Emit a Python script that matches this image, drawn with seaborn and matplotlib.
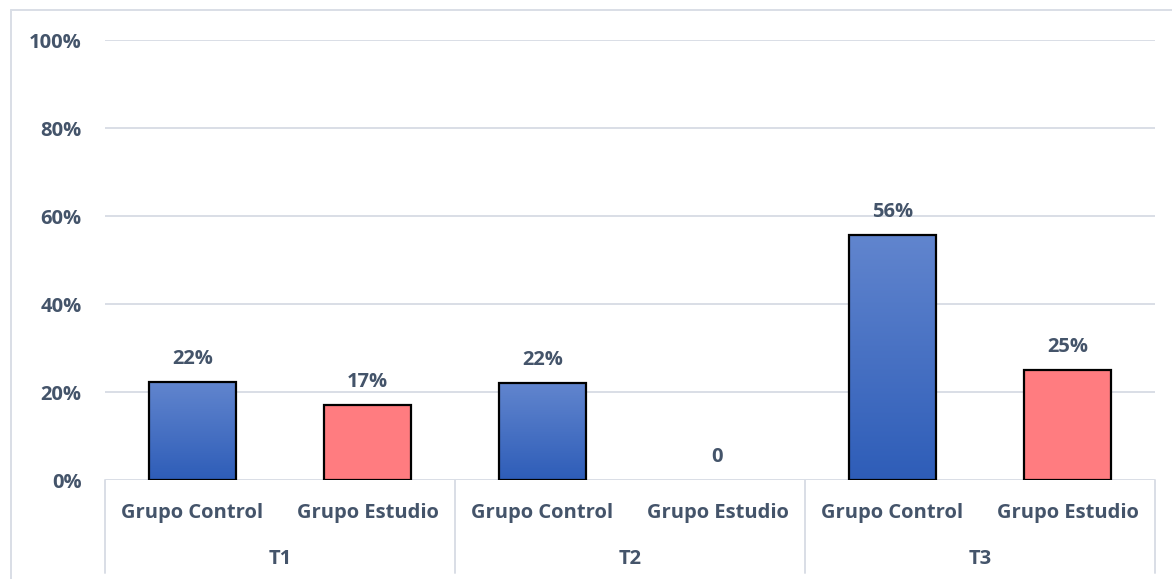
import numpy as np
import pandas as pd
import seaborn as sns
import matplotlib.pyplot as plt
from matplotlib.lines import Line2D
from matplotlib.colors import LinearSegmentedColormap

# data
tiempos = ["T1", "T1", "T2", "T2", "T3", "T3"]
grupos = ["Grupo Control", "Grupo Estudio"] * 3
valores = [0.222, 0.17, 0.22, 0.0, 0.556, 0.25]
etiquetas = ["22%", "17%", "22%", "0", "56%", "25%"]
y_ticks = [0, 0.2, 0.4, 0.6, 0.8, 1.0]
y_labels = ["0%", "20%", "40%", "60%", "80%", "100%"]

TEXT = "#44546A"
GRID = "#D9DEE6"
FS = 14.5

df = pd.DataFrame({"tiempo": tiempos, "grupo": grupos, "valor": valores})
df["pos"] = [f"{t}|{g}" for t, g in zip(tiempos, grupos)]

sns.set_style("white")
plt.rcParams["font.family"] = ["Open Sans", "DejaVu Sans"]
plt.rcParams["font.weight"] = "bold"

fig = plt.figure(figsize=(11.72, 5.79), dpi=100)
ax = fig.add_axes([105 / 1172, 1 - 480 / 579, 1050 / 1172, 440 / 579])

sns.barplot(data=df, x="pos", y="valor", hue="grupo",
            palette={"Grupo Control": "#3F6CC4", "Grupo Estudio": "#FF7C80"},
            dodge=False, width=0.5, saturation=1, edgecolor="black", linewidth=1.6,
            legend=False, ax=ax)

# vertical gradient on the control bars
cmap = LinearSegmentedColormap.from_list("azul", ["#2E5DB8", "#6185CE"])
grad = np.linspace(0, 1, 256).reshape(-1, 1)
bars_sorted = sorted(ax.patches, key=lambda b: b.get_x())
for bar, g in zip(bars_sorted, grupos):
    if bar.get_height() == 0:
        bar.set_linewidth(0)
        continue
    if g == "Grupo Control":
        x0, y0 = bar.get_x(), bar.get_y()
        w, h = bar.get_width(), bar.get_height()
        im = ax.imshow(grad, cmap=cmap, origin="lower", aspect="auto",
                       extent=[x0, x0 + w, y0, y0 + h], zorder=bar.get_zorder() - 0.1)
        im.set_clip_path(bar)
        bar.set_facecolor("none")

# bar labels in the data order
for bar, lab in zip(bars_sorted, etiquetas):
    ax.annotate(lab, (bar.get_x() + bar.get_width() / 2, bar.get_height()),
                xytext=(0, 9.5), textcoords="offset points", ha="center", va="bottom",
                fontsize=FS, fontweight="bold", color=TEXT)

ax.set_xlim(-0.5, 5.5)
ax.set_ylim(0, 1)
ax.set_yticks(y_ticks)
ax.set_yticklabels(y_labels)
ax.yaxis.grid(True, color=GRID, linewidth=1.4)
ax.set_axisbelow(True)
sns.despine(ax=ax, left=True, bottom=True, top=True, right=True)
ax.tick_params(axis="y", length=0, pad=17, labelsize=FS, labelcolor=TEXT)
ax.tick_params(axis="x", length=0, pad=16.5, labelsize=FS, labelcolor=TEXT)
ax.set_xticks(range(6))
ax.set_xticklabels(grupos)
for t in ax.get_xticklabels() + ax.get_yticklabels():
    t.set_fontweight("bold")
ax.set_xlabel("")
ax.set_ylabel("")

# second level of the category axis
for i in range(3):
    ax.text(2 * i + 0.5, -0.18, tiempos[2 * i], transform=ax.get_xaxis_transform(),
            ha="center", va="center", fontsize=FS, fontweight="bold", color=TEXT)
for xs in [-0.5, 1.5, 3.5, 5.5]:
    ax.plot([xs, xs], [0, -0.212], transform=ax.get_xaxis_transform(),
            color=GRID, linewidth=1.4, clip_on=False)

# outer chart border
fig.add_artist(Line2D([11 / 1172, 1], [1 - 10 / 579, 1 - 10 / 579], color=GRID, linewidth=1.4))
fig.add_artist(Line2D([11 / 1172, 11 / 1172], [0, 1 - 10 / 579], color=GRID, linewidth=1.4))

fig.savefig("out.png", dpi=100)
